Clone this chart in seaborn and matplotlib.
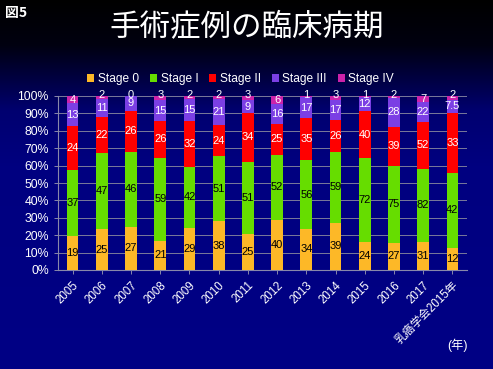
import numpy as np
import pandas as pd
import matplotlib
matplotlib.use("Agg")
import matplotlib.pyplot as plt
from matplotlib.colors import LinearSegmentedColormap
import seaborn as sns

categories = ["2005", "2006", "2007", "2008", "2009", "2010", "2011", "2012",
              "2013", "2014", "2015", "2016", "2017", "乳癌学会2015年"]
stages = ["Stage 0", "Stage I", "Stage II", "Stage III", "Stage IV"]
stage0 = [19, 25, 27, 21, 29, 38, 25, 40, 34, 39, 24, 27, 31, 12]
stage1 = [37, 47, 46, 59, 42, 51, 51, 52, 56, 59, 72, 75, 82, 42]
stage2 = [24, 22, 26, 26, 32, 24, 34, 25, 35, 26, 40, 39, 52, 33]
stage3 = [13, 11, 9, 15, 15, 21, 9, 16, 17, 17, 12, 28, 22, 7.5]
stage4 = [4, 2, 0, 3, 2, 2, 3, 6, 1, 3, 1, 2, 7, 2]
yticks = [0, 10, 20, 30, 40, 50, 60, 70, 80, 90, 100]

colors = ["#FDB827", "#66DD00", "#FF0000", "#7B3FE4", "#CC22AA"]
text_colors = ["black", "black", "white", "white", "white"]

FAM = ["Liberation Sans", "Noto Sans CJK JP", "DejaVu Sans"]
plt.rcParams["font.family"] = FAM

values = np.array([stage0, stage1, stage2, stage3, stage4], dtype=float)
totals = values.sum(axis=0)
pct = values / totals * 100

fig = plt.figure(figsize=(4.93, 3.69), dpi=100)

# background gradient
bg = fig.add_axes([0, 0, 1, 1], zorder=-10)
cmap = LinearSegmentedColormap.from_list("bg", [(0, "#000000"), (0.12, "#000010"), (0.3, "#000070"), (0.45, "#000080"), (1, "#000085")])
grad = np.linspace(0, 1, 256).reshape(-1, 1)
bg.imshow(grad, aspect="auto", cmap=cmap, extent=[0, 1, 0, 1], origin="upper")
bg.set_axis_off()

ax = fig.add_axes([58 / 493, 1 - 270 / 369, (467 - 58) / 493, (270 - 96) / 369])
ax.patch.set_alpha(0)

bottom = np.zeros(len(categories))
for i, st in enumerate(stages):
    df = pd.DataFrame({"cat": categories, "val": pct[i]})
    sns.barplot(data=df, x="cat", y="val", color=colors[i], bottom=bottom,
                width=0.40, ax=ax, label=st, saturation=1, zorder=3)
    for j in range(len(categories)):
        yc = bottom[j] + pct[i][j] / 2
        if i == 4 and pct[i][j] < 3:
            yc = 100.8
        ax.text(j, yc, f"{values[i][j]:g}", ha="center", va="center",
                fontsize=8, color=text_colors[i], zorder=5, clip_on=False)
    bottom = bottom + pct[i]

ax.set_ylim(0, 100)
ax.set_xlim(-0.5, len(categories) - 0.5)
ax.set_yticks(yticks)
ax.set_yticklabels([f"{t}%" for t in yticks], color="white", fontsize=8.8)
ax.yaxis.grid(True, color="#7a7a9a", linewidth=0.7, zorder=0)
ax.set_axisbelow(True)
ax.set_xlabel("")
ax.set_ylabel("")
ax.set_xticks(range(len(categories)))
ax.set_xticklabels(categories, rotation=45, ha="right", rotation_mode="anchor",
                   color="white", fontsize=8.3)
ax.tick_params(axis="both", colors="#8888aa", length=3, width=0.7, labelcolor="white")
for s in ["top", "right"]:
    ax.spines[s].set_visible(False)
for s in ["left", "bottom"]:
    ax.spines[s].set_color("#8888aa")
    ax.spines[s].set_linewidth(0.8)

leg = ax.legend(loc="lower left", bbox_to_anchor=(0.06, 1.035), ncol=5, frameon=False,
                fontsize=8.6, labelcolor="white", handlelength=0.6, handleheight=0.6,
                handletextpad=0.3, columnspacing=0.9, borderaxespad=0)

fig.text(0.5, 1 - 28 / 369, "手術症例の臨床病期", ha="center", va="center",
         color="white", fontsize=22, family=["Noto Sans CJK JP"])
fig.text(5 / 493, 1 - 13 / 369, "図5", ha="left", va="center", color="white",
         fontsize=10, family=["Noto Sans CJK JP"], fontweight="bold")
fig.text(457 / 493, 1 - 345 / 369, "(年)", ha="center", va="center", color="white",
         fontsize=8.8)

fig.savefig("out.png", dpi=100)
